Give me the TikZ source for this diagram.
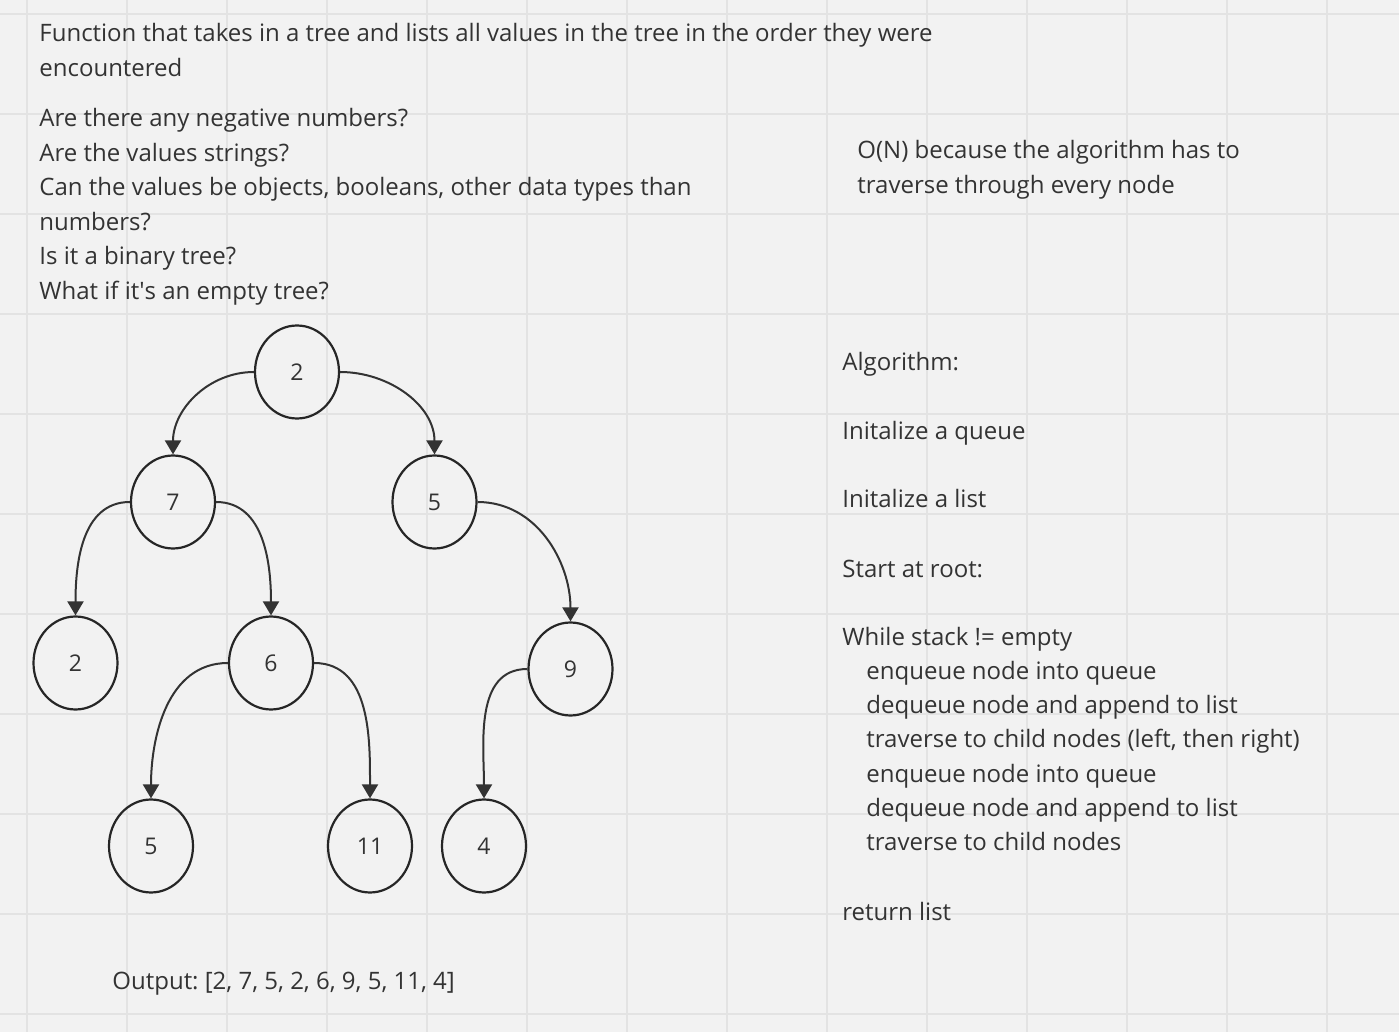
\documentclass[tikz,border=0pt]{standalone}
\usepackage{fontspec}
\setmainfont{Open Sans}
\usetikzlibrary{shapes.geometric, arrows.meta}

\definecolor{fondo}{HTML}{F2F2F2}
\definecolor{rejilla}{HTML}{E3E3E3}
\definecolor{tinta}{HTML}{333333}
\frenchspacing

\begin{document}
\begin{tikzpicture}[x=0.5pt, y=-0.5pt,
    nodo/.style={ellipse, draw=black!85, line width=1.1pt, minimum width=42pt, minimum height=46.5pt, inner sep=0pt, text=tinta, font=\fontsize{11.5}{13}\selectfont},
    flecha/.style={draw=tinta, line width=1pt, -{Triangle[length=7pt, width=8pt]}},
    texto/.style={anchor=base west, inner sep=0pt, text=tinta, font=\fontsize{12}{14}\selectfont}]

        % Fondo
        \fill[fondo] (0,0) rectangle (1399,1032);
        \useasboundingbox (0,0) rectangle (1399,1032);

        % Rejilla
        \foreach \x in {27,127,...,1327} \draw[rejilla, line width=1pt] (\x,0) -- (\x,1032);
        \foreach \y in {14,114,...,1014} \draw[rejilla, line width=1pt] (0,\y) -- (1399,\y);

        % Enunciado
        \node[texto] (enunciado1) at (39,42) {Function that takes in a tree and lists all values in the tree in the order they were};
        \node[texto] (enunciado2) at (39,77) {encountered};

        % Preguntas
        \node[texto] (pregunta1) at (39,127) {Are there any negative numbers?};
        \node[texto] (pregunta2) at (39,161.5) {Are the values strings?};
        \node[texto] (pregunta3) at (39,196) {Can the values be objects, booleans, other data types than};
        \node[texto] (pregunta4) at (39,230.5) {numbers?};
        \node[texto] (pregunta5) at (39,265) {Is it a binary tree?};
        \node[texto] (pregunta6) at (39,299.5) {What if it\textquotesingle s an empty tree?};

        % Complejidad
        \node[texto] (orden1) at (857,159) {O(N) because the algorithm has to};
        \node[texto] (orden2) at (857,193.5) {traverse through every node};

        % Algoritmo
        \node[texto] (algoritmo) at (842,371) {Algorithm:};
        \node[texto] (paso1) at (842,440) {Initalize a queue};
        \node[texto] (paso2) at (842,508) {Initalize a list};
        \node[texto] (paso3) at (842,577) {Start at root:};
        \node[texto] (paso4) at (842,645) {While stack != empty};
        \node[texto] (paso5) at (866,679.5) {enqueue node into queue};
        \node[texto] (paso6) at (866,713.5) {dequeue node and append to list};
        \node[texto] (paso7) at (866,747.5) {traverse to child nodes (left, then right)};
        \node[texto] (paso8) at (866,782) {enqueue node into queue};
        \node[texto] (paso9) at (866,816) {dequeue node and append to list};
        \node[texto] (paso10) at (866,850.5) {traverse to child nodes};
        \node[texto] (paso11) at (842,920) {return list};

        % Salida
        \node[texto] (salida) at (112,989.5) {Output: [2, 7, 5, 2, 6, 9, 5, 11, 4]};

        % Nodos del arbol
        \node[nodo] (raiz) at (297,372) {2};
        \node[nodo] (n7) at (173,502) {7};
        \node[nodo] (n5) at (434.5,502) {5};
        \node[nodo] (n2) at (75.5,663) {2};
        \node[nodo] (n6) at (271,663) {6};
        \node[nodo] (n9) at (570.5,669) {9};
        \node[nodo] (n5b) at (151,846) {5};
        \node[nodo] (n11) at (370,846) {11};
        \node[nodo] (n4) at (484,846) {4};

        % Aristas
        \draw[flecha] (raiz.west) to[out=180, in=90] (n7.north);
        \draw[flecha] (raiz.east) to[out=0, in=90] (n5.north);
        \draw[flecha] (n7.west) to[out=180, in=90] (n2.north);
        \draw[flecha] (n7.east) to[out=0, in=90] (n6.north);
        \draw[flecha] (n5.east) to[out=0, in=90] (n9.north);
        \draw[flecha] (n6.west) to[out=180, in=90] (n5b.north);
        \draw[flecha] (n6.east) to[out=0, in=90] (n11.north);
        \draw[flecha] (n9.west) to[out=180, in=90] (n4.north);

    \end{tikzpicture}
\end{document}
